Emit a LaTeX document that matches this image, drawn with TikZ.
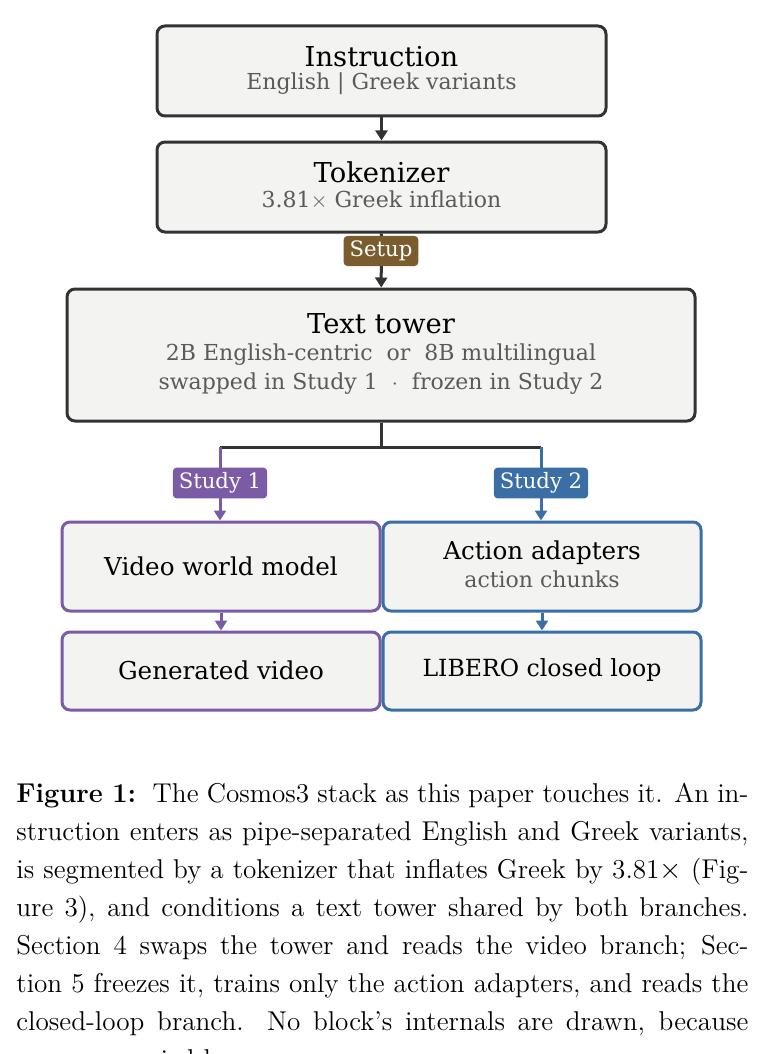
\documentclass[tikz,border=0pt]{standalone}
\usepackage{fontspec}
\newfontfamily\dvs{DejaVu Serif}
\usetikzlibrary{arrows.meta}
\definecolor{boxfill}{HTML}{F3F3F2}
\definecolor{edge}{HTML}{333333}
\definecolor{subt}{HTML}{5A5A5A}
\definecolor{setupc}{HTML}{7A5C2E}
\definecolor{purp}{HTML}{7B5AA6}
\definecolor{blu}{HTML}{3A6EA5}
\newcommand{\capline}[1]{\makebox[366pt][s]{#1}\\}
\begin{document}
\begin{tikzpicture}[x=0.5pt,y=-0.5pt,
 box/.style={draw=#1,fill=boxfill,line width=1.5pt,rounded corners=4pt},
 ttl/.style={font=\dvs\fontsize{13.7}{15}\selectfont,text=black},
 sub/.style={font=\dvs\fontsize{11}{13}\selectfont,text=subt},
 lbl/.style={font=\dvs\fontsize{12.3}{14}\selectfont,text=black},
 tag/.style={fill=#1,text=white,rounded corners=2pt,font=\dvs\fontsize{10.6}{12}\selectfont,inner xsep=3pt,inner ysep=2.5pt},
 arr/.style={draw=#1,line width=1.5pt,-{Triangle[length=5pt,width=6pt]}}]
\useasboundingbox (0,0) rectangle (769,1054);
\node[box=edge,minimum width=224.5pt,minimum height=45pt] (ins) at (381.5,71) {};
\node[ttl] (insT) at (381.5,57) {Instruction};
\node[sub] (insS) at (381.5,84) {English | Greek variants};
\node[box=edge,minimum width=224.5pt,minimum height=45pt] (tok) at (381.5,187) {};
\node[ttl] (tokT) at (381.5,172) {Tokenizer};
\node[sub] (tokS) at (381.5,200) {3.81$\times$ Greek inflation};
\node[box=edge,minimum width=314pt,minimum height=66pt] (tt) at (381,355) {};
\node[ttl] (ttT) at (381,324) {Text tower};
\node[sub] (ttS1) at (381,355) {2B English-centric\ \ or\ \ 8B multilingual};
\node[sub] (ttS2) at (381,384) {swapped in Study 1\ \ $\cdot$\ \ frozen in Study 2};
\draw[arr=edge] (ins) -- (tok);
\draw[arr=edge] (tok) -- (tt);
\node[tag=setupc] (setup) at (381,251) {Setup};
\node[box=purp,minimum width=159pt,minimum height=44.5pt] (vwm) at (221,566.5) {};
\node[lbl] (vwmT) at (221,566) {Video world model};
\node[box=blu,minimum width=159pt,minimum height=44.5pt] (aa) at (542,566.5) {};
\node[lbl] (aaT) at (542,553) {Action adapters};
\node[sub] (aaS) at (542,579) {action chunks};
\node[box=purp,minimum width=159pt,minimum height=39pt] (gv) at (221,671) {};
\node[lbl] (gvT) at (221,670) {Generated video};
\node[box=blu,minimum width=159pt,minimum height=39pt] (lib) at (542,671) {};
\node[lbl,font=\dvs\fontsize{11.8}{13}\selectfont] (libT) at (542,670) {LIBERO closed loop};
\coordinate (j) at (381,447);
\coordinate (jl) at (220,447);
\coordinate (jr) at (541,447);
\draw[edge,line width=1.5pt] (tt.south) -- (j);
\draw[edge,line width=1.5pt] (jl) -- (jr);
\draw[arr=purp] (jl) -- (jl |- vwm.north);
\draw[arr=blu] (jr) -- (jr |- aa.north);
\node[tag=purp] (s1) at (220,483) {Study 1};
\node[tag=blu] (s2) at (541,483) {Study 2};
\draw[arr=purp] (vwm) -- (gv);
\draw[arr=blu] (aa) -- (lib);
\node[anchor=north west,inner sep=0pt,align=left,font=\fontsize{13.6}{19}\selectfont] (cap) at (16,783) {%
\capline{\textbf{Figure 1:}\ \ The Cosmos3 stack as this paper touches it. An in-}%
\capline{struction enters as pipe-separated English and Greek variants,}%
\capline{is segmented by a tokenizer that inflates Greek by 3.81$\times$ (Fig-}%
\capline{ure 3), and conditions a text tower shared by both branches.}%
\capline{Section 4 swaps the tower and reads the video branch; Sec-}%
\capline{tion 5 freezes it, trains only the action adapters, and reads the}%
\capline{closed-loop branch. No block's internals are drawn, because}%
none are varied here.};
\end{tikzpicture}
\end{document}
